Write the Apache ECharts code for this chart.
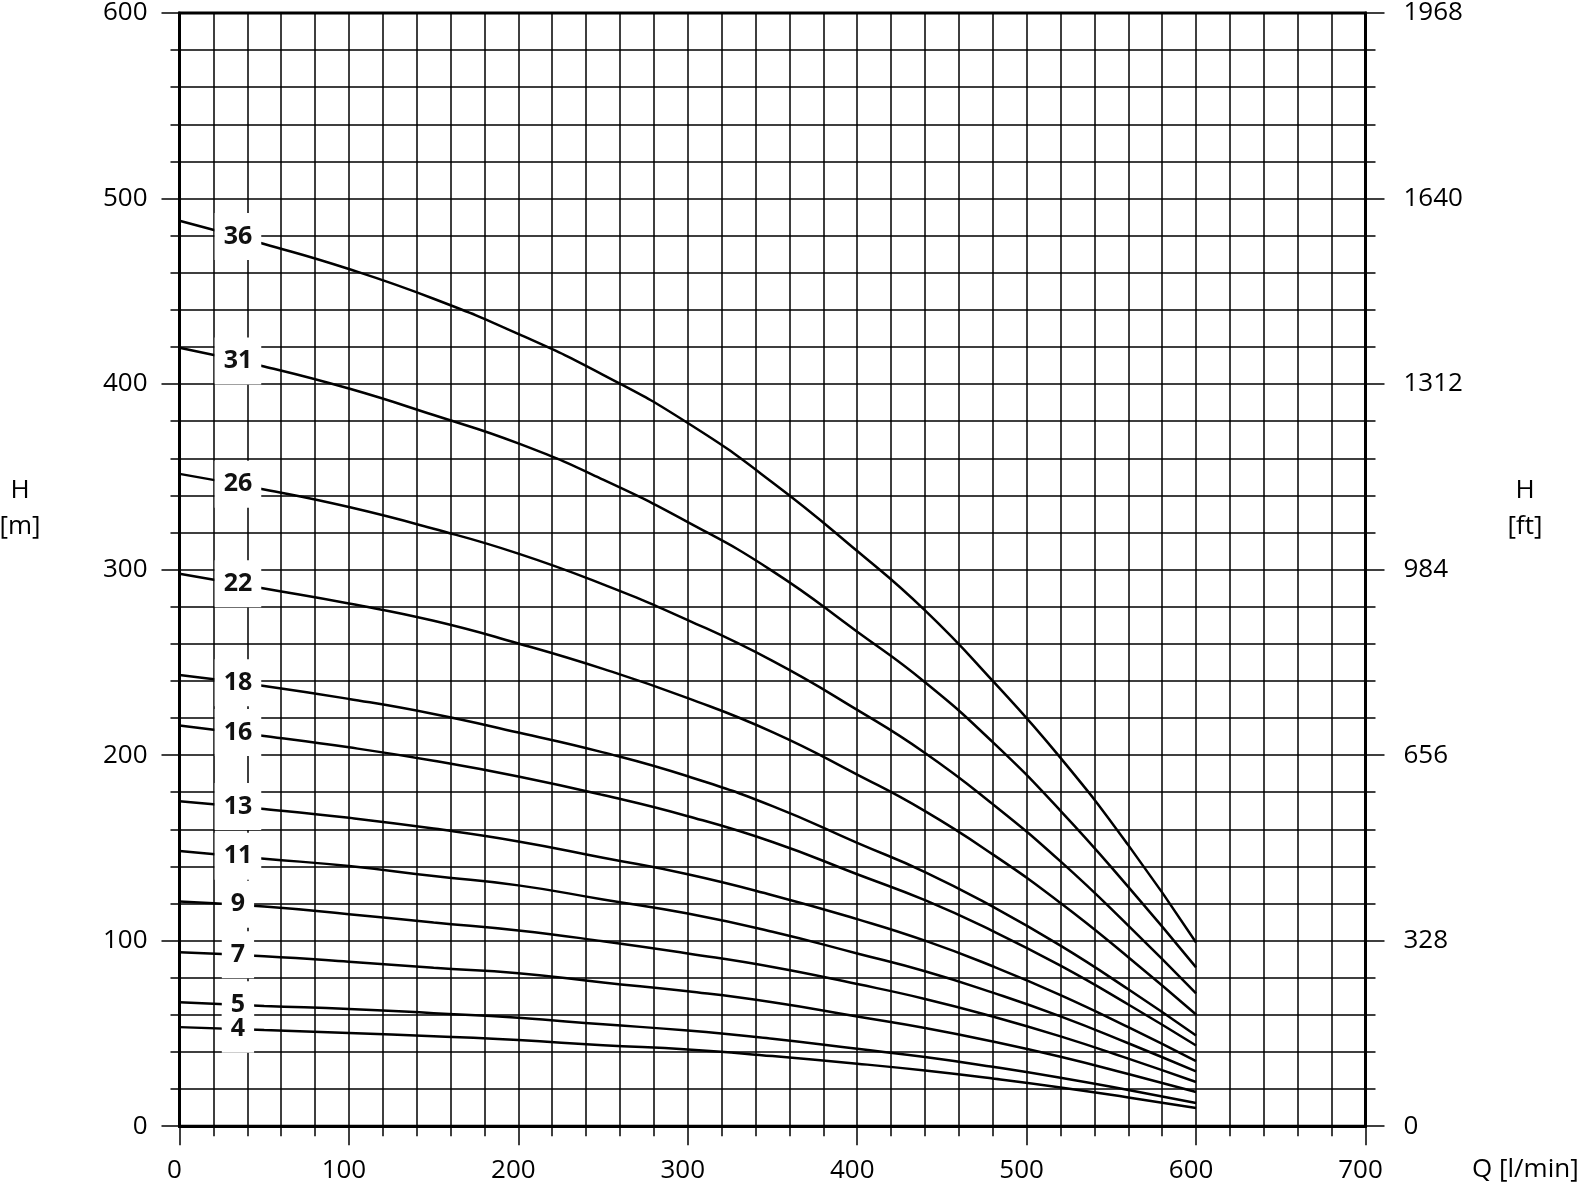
<!DOCTYPE html>
<html>
<head>
<meta charset="utf-8">
<script src="https://cdn.jsdelivr.net/npm/echarts@6/dist/echarts.min.js"></script>
<style>html,body{margin:0;padding:0;background:#fff;}#c{width:1582px;height:1186px;}</style>
</head>
<body>
<div id="c"></div>
<script>
// Flow Q [l/min] sample points
const qPoints = [0, 50, 100, 150, 200, 250, 300, 350, 400, 440, 480, 520, 560, 600];
// Curve names (number of stages)
const stages = ['36', '31', '26', '22', '18', '16', '13', '11', '9', '7', '5', '4'];
// Head H [m] per curve
const h36 = [488, 475.5, 462, 446, 427, 405, 379, 347, 310, 278, 240, 198.5, 151.5, 99];
const h31 = [419.6, 409.5, 397.6, 383.3, 368, 348.5, 325.6, 299.2, 266.5, 239.3, 207, 170, 129, 85.6];
const h26 = [351.6, 343.2, 333.7, 322, 308.6, 292, 272.8, 250.8, 224.4, 201.2, 173.6, 142.7, 108.1, 71.6];
const h22 = [297.8, 289.8, 281.7, 272.4, 260.2, 246.5, 230.7, 212.4, 189.5, 169.8, 146.5, 120.3, 91.1, 60.2];
const h18 = [243.2, 237.3, 230.3, 222.2, 212.2, 201.5, 188.6, 172.5, 152.7, 137, 118.3, 97.3, 73.8, 48.9];
const h16 = [216, 210.3, 204.2, 197, 188.5, 178.5, 167.1, 153.2, 135.8, 121.8, 105.2, 86.5, 65.6, 43.5];
const h13 = [175.2, 171, 166.2, 160.4, 153.5, 144.7, 135.8, 124.5, 111.6, 100, 86.2, 70.7, 53.4, 35.1];
const h11 = [148.3, 144.2, 140.2, 134.8, 129.8, 122.2, 114.6, 104.8, 93.1, 83.5, 72, 59.2, 44.7, 29.5];
const h9 = [121.1, 118.4, 114.3, 109.8, 105.5, 99.7, 93.1, 85.8, 76.6, 68.6, 59.1, 48.4, 36.4, 23.8];
const h7 = [93.7, 91.6, 88.7, 85.4, 82.5, 77.5, 72.7, 66.8, 59.1, 52.9, 45.6, 37.4, 28.1, 18.4];
const h5 = [66.8, 64.8, 63.2, 60.9, 58.4, 54.9, 51.6, 47.1, 41.7, 37.3, 32, 26.1, 19.5, 12.5];
const h4 = [53.4, 51.8, 50.3, 48.5, 46.4, 43.6, 41.4, 37.8, 33.7, 30, 25.7, 20.9, 15.5, 9.8];
// Curve label anchor (Q) and head at that point
const labelQ = 34.5;
const labelH = [479.5, 412.5, 346, 292.4, 239, 212.2, 172.3, 145.5, 119.6, 92.4, 65.5, 52.2];
// Axis ticks
const qTicks = [0, 100, 200, 300, 400, 500, 600, 700];
const hTicks = [0, 100, 200, 300, 400, 500, 600];
const ftTicks = [0, 328, 656, 984, 1312, 1640, 1968];

const curves = [h36, h31, h26, h22, h18, h16, h13, h11, h9, h7, h5, h4];

const FONT = '"Open Sans", "DejaVu Sans", sans-serif';
const black = '#000';
const gridLine = { color: black, width: 1.5 };

const lineSeries = curves.map((h, i) => ({
  name: stages[i],
  type: 'line',
  xAxisIndex: 0,
  yAxisIndex: 0,
  data: qPoints.map((q, j) => [q, h[j]]),
  symbol: 'none',
  smooth: 0.5,
  lineStyle: { color: black, width: 2.5 },
  z: 2,
  silent: true
}));

const labelData = stages.map((s, i) => [labelQ, labelH[i], s]);
const labelBase = {
  show: true,
  position: 'inside',
  formatter: p => p.data[2],
  fontFamily: FONT,
  fontWeight: 'bold',
  fontSize: 25,
  lineHeight: 25,
  padding: [13, 9, 9, 9],
  opacity: 1,
  textBorderWidth: 0,
  textShadowBlur: 0
};

const boxSeries = {
  type: 'scatter',
  data: labelData,
  symbolSize: 1,
  itemStyle: { color: 'rgba(255,255,255,0)', opacity: 1 },
  label: Object.assign({}, labelBase, { color: 'rgba(255,255,255,0)', backgroundColor: '#fff' }),
  z: 10,
  silent: true
};
const textSeries = {
  type: 'scatter',
  data: labelData,
  symbolSize: 1,
  itemStyle: { color: 'rgba(255,255,255,0)', opacity: 1 },
  label: Object.assign({}, labelBase, { color: '#111' }),
  z: 11,
  silent: true
};

const chart = echarts.init(document.getElementById('c'));
chart.setOption({
  animation: false,
  backgroundColor: '#fff',
  grid: { left: 179.5, top: 9.5, width: 1186, height: 1116.7, show: true, borderColor: black, borderWidth: 3, containLabel: false },
  xAxis: {
    type: 'value',
    min: qTicks[0], max: qTicks[qTicks.length - 1], interval: qTicks[1] - qTicks[0],
    axisLine: { show: true, onZero: false, lineStyle: { color: black, width: 3 } },
    axisTick: { show: true, length: 19, lineStyle: { color: black, width: 1.5 } },
    minorTick: { show: true, splitNumber: 5, length: 10, lineStyle: { color: black, width: 1.5 } },
    splitLine: { show: true, lineStyle: gridLine },
    minorSplitLine: { show: true, lineStyle: gridLine },
    axisLabel: { fontFamily: FONT, fontSize: 26, color: black, margin: 31, padding: [0, 10, 0, 0], formatter: v => String(v) }
  },
  yAxis: [
    {
      type: 'value', position: 'left',
      min: hTicks[0], max: hTicks[hTicks.length - 1], interval: hTicks[1] - hTicks[0],
      axisLine: { show: true, onZero: false, lineStyle: { color: black, width: 3 } },
      axisTick: { show: true, length: 18, lineStyle: { color: black, width: 1.5 } },
      minorTick: { show: true, splitNumber: 5, length: 9, lineStyle: { color: black, width: 1.5 } },
      splitLine: { show: true, lineStyle: gridLine },
      minorSplitLine: { show: true, lineStyle: gridLine },
      axisLabel: { fontFamily: FONT, fontSize: 26, color: black, margin: 32, padding: [8, 0, 0, 0], formatter: v => String(v) }
    },
    {
      type: 'value', position: 'right',
      min: ftTicks[0], max: ftTicks[ftTicks.length - 1], interval: ftTicks[1] - ftTicks[0],
      axisLine: { show: true, onZero: false, lineStyle: { color: black, width: 3 } },
      axisTick: { show: true, length: 19, lineStyle: { color: black, width: 1.5 } },
      minorTick: { show: true, splitNumber: 5, length: 10, lineStyle: { color: black, width: 1.5 } },
      splitLine: { show: false },
      minorSplitLine: { show: false },
      axisLabel: { fontFamily: FONT, fontSize: 26, color: black, margin: 38, padding: [9, 0, 0, 0], formatter: v => String(v) }
    }
  ],
  graphic: [
    { type: 'text', x: 20, y: 491, style: { text: 'H', font: '26px ' + FONT, fill: black, align: 'center', verticalAlign: 'middle', textAlign: 'center', textVerticalAlign: 'middle' } },
    { type: 'text', x: 20, y: 527, style: { text: '[m]', font: '26px ' + FONT, fill: black, align: 'center', verticalAlign: 'middle', textAlign: 'center', textVerticalAlign: 'middle' } },
    { type: 'text', x: 1525, y: 491, style: { text: 'H', font: '26px ' + FONT, fill: black, align: 'center', verticalAlign: 'middle', textAlign: 'center', textVerticalAlign: 'middle' } },
    { type: 'text', x: 1525, y: 527, style: { text: '[ft]', font: '26px ' + FONT, fill: black, align: 'center', verticalAlign: 'middle', textAlign: 'center', textVerticalAlign: 'middle' } },
    { type: 'text', x: 1472, y: 1170, style: { text: 'Q [l/min]', font: '26px ' + FONT, fill: black, align: 'left', verticalAlign: 'middle', textAlign: 'left', textVerticalAlign: 'middle' } }
  ],
  series: lineSeries.concat([boxSeries, textSeries])
});
</script>
</body>
</html>
